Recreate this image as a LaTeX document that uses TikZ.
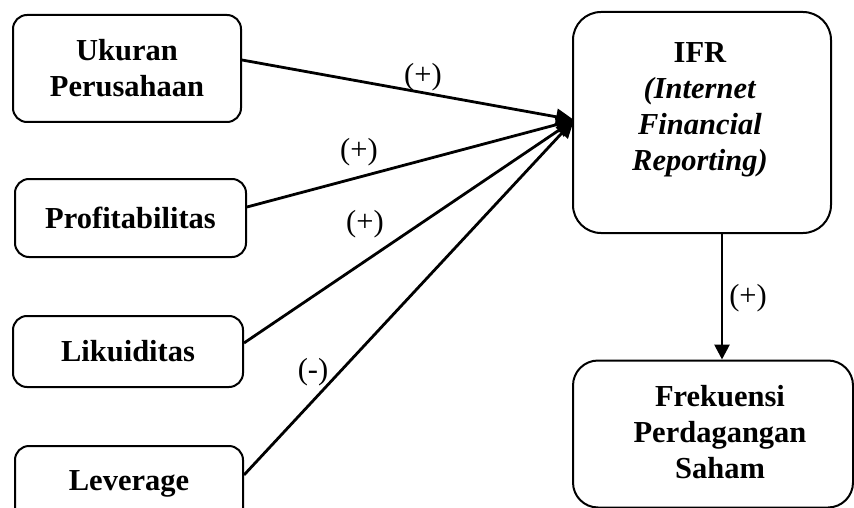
\documentclass[tikz,border=0pt]{standalone}
\usepackage{fontspec}
\setmainfont{Liberation Serif}
\usetikzlibrary{arrows.meta}
\begin{document}
\begin{tikzpicture}[x=1pt,y=-1pt,
  box/.style={draw, line width=2pt, rounded corners=14pt, align=center,
    font=\bfseries\fontsize{30.5}{36}\selectfont, inner sep=0pt},
  bigbox/.style={box, rounded corners=28pt},
  btext/.style={align=center, font=\bfseries\fontsize{30.5}{36}\selectfont, inner sep=0pt},
  conn/.style={line width=2.8pt, -{Triangle[length=18pt,width=16pt]}},
  lab/.style={font=\fontsize{30.5}{36}\selectfont, inner sep=0pt}]
\useasboundingbox (0,0) rectangle (854,508);
% left boxes
\node[box, minimum width=228pt, minimum height=107pt] (u) at (127,68.5) {Ukuran\\Perusahaan};
\node[box, minimum width=231pt, minimum height=78pt] (p) at (130.5,218) {Profitabilitas};
\node[box, minimum width=230pt, minimum height=71pt] (l) at (128,351.5) {Likuiditas};
\node[box, minimum width=228pt, minimum height=76pt] (v) at (129,484) {Leverage};
% right boxes
\node[bigbox, minimum width=258pt, minimum height=221pt] (ifr) at (702,122.5) {};
\node[btext] (ifrtext) at (700,110) {IFR\\\textit{(Internet}\\\textit{Financial}\\\textit{Reporting)}};
\node[bigbox, rounded corners=25pt, minimum width=280pt, minimum height=147pt] (fp) at (713,434) {};
\node[btext] (fptext) at (720,432) {Frekuensi\\Perdagangan\\Saham};
% connectors
\coordinate (tip) at (574,120);
\coordinate (vx) at (722,0);
\draw[conn] ([yshift=8.5pt]u.east) -- (tip);
\draw[conn] ([yshift=11pt]p.east) -- (tip);
\draw[conn] ([yshift=8.5pt]l.east) -- (tip);
\draw[conn] ([yshift=9pt]v.east) -- (tip);
\draw[conn, -{Triangle[length=15pt,width=15pt]}] (ifr.south -| vx) -- (fp.north -| vx);
% labels
\node[lab] (l1) at (423,77) {(+)};
\node[lab] (l2) at (359,152) {(+)};
\node[lab] (l3) at (365,224) {(+)};
\node[lab] (l4) at (313,372) {(-)};
\node[lab] (l5) at (748,298) {(+)};
\end{tikzpicture}
\end{document}
